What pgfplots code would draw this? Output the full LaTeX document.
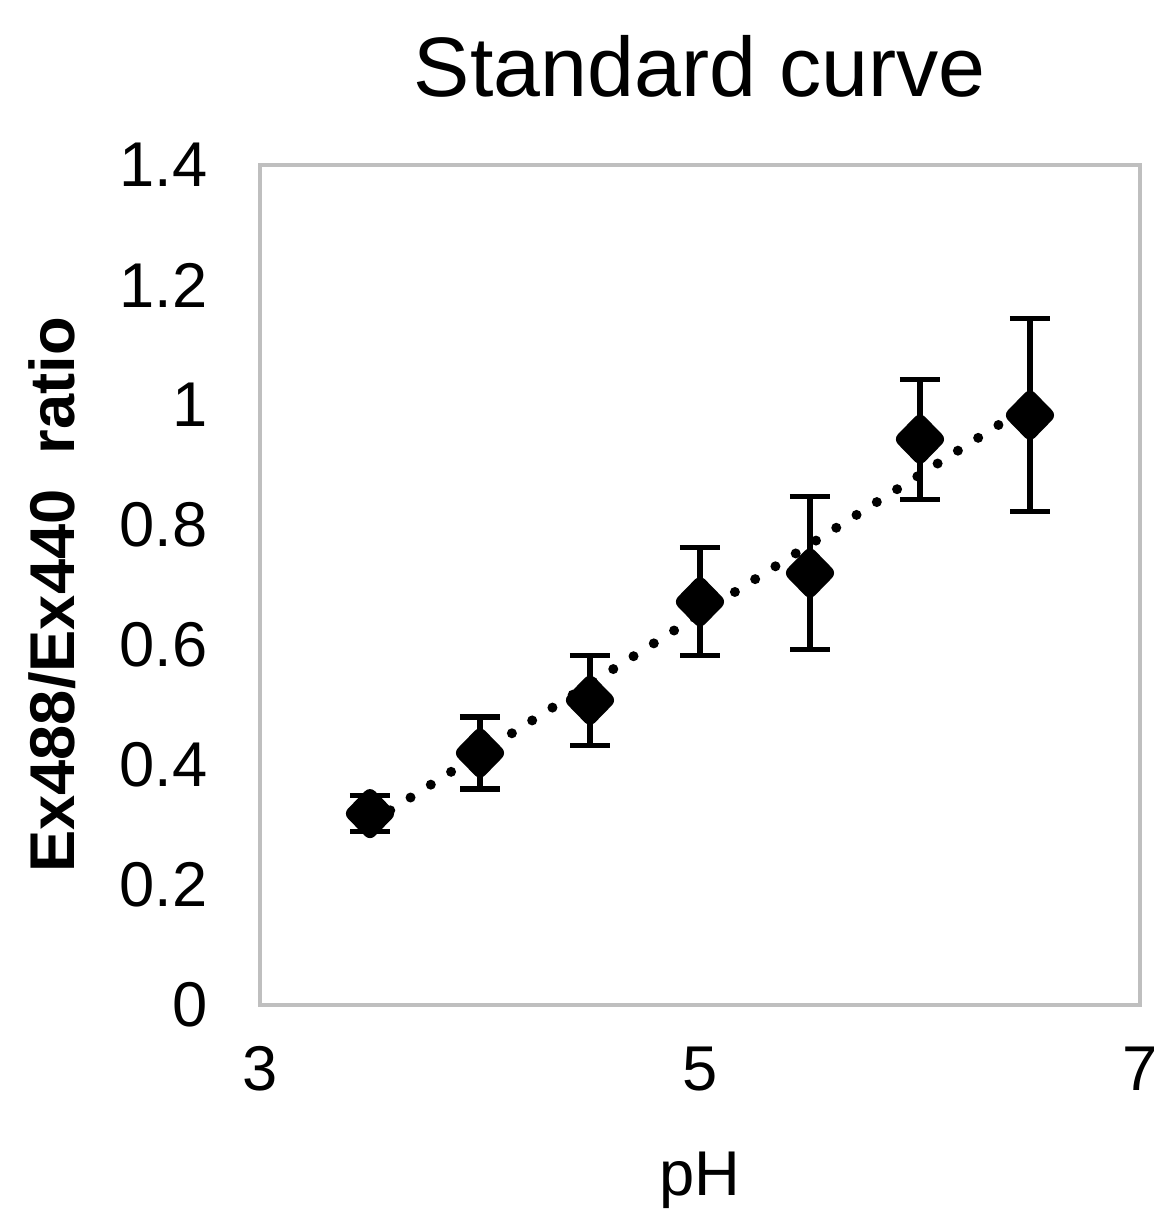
\documentclass[border=0pt]{standalone}
\usepackage{pgfplots}
\pgfplotsset{compat=1.18}
\usepackage{fontspec}
\setmainfont{Liberation Sans}
\begin{document}
\begin{tikzpicture}
\begin{axis}[
  name=ax,
  scale only axis,
  width=88mm, height=84mm,
  xmin=3, xmax=7, ymin=0, ymax=1.4,
  xtick={3,5,7}, ytick={0,0.2,...,1.4},
  major tick length=0pt,
  axis line style={draw=black!25, line width=1.4pt},
  /pgf/number format/assume math mode=true,
  /pgf/number format/.cd, fixed, precision=1, /pgfplots/.cd,
  tick label style={font=\fontsize{18}{20}\selectfont, black},
  yticklabel style={anchor=east, inner sep=0pt, xshift=-5.2mm},
  xticklabel style={anchor=north, inner sep=0pt, yshift=-4.1mm},
  title={Standard curve},
  title style={font=\fontsize{24}{28}\selectfont, at={(0.5,1)}, anchor=center, yshift=7.8mm},
  xlabel={pH},
  xlabel style={font=\fontsize{18}{20}\selectfont, at={(0.5,0)}, anchor=base, yshift=-19mm},
  ylabel={Ex488/Ex440\ \ ratio},
  ylabel style={font=\bfseries\fontsize{18}{20}\selectfont, at={(0,0.5)}, anchor=center, yshift=20.8mm, xshift=-1mm},
  clip=false,
]
% linear trend line
\addplot[black, line width=1mm, line cap=round, dash pattern=on 0pt off 2.4mm] coordinates {(3.5,0.303) (6.5,1.0)};
% data with error bars
\addplot[black, only marks, mark=diamond*, mark size=1.75mm,
  mark options={xscale=1.3, fill=black, draw=black, line width=1.4mm, line join=round},
  error bars/.cd, y dir=both, y explicit,
  error bar style={line width=1.5pt, black},
  error mark options={rotate=90, mark size=2mm, line width=1.5pt, black}]
coordinates {
  (3.5,0.319) +- (0,0.030)
  (4.0,0.420) +- (0,0.060)
  (4.5,0.508) +- (0,0.075)
  (5.0,0.672) +- (0,0.090)
  (5.5,0.720) +- (0,0.127)
  (6.0,0.943) +- (0,0.100)
  (6.5,0.983) +- (0,0.161)
};
\end{axis}
\pgfresetboundingbox
\path ([xshift=-26mm,yshift=-21.5mm]ax.south west) rectangle ([xshift=2.2mm,yshift=16.5mm]ax.north east);
\end{tikzpicture}
\end{document}
